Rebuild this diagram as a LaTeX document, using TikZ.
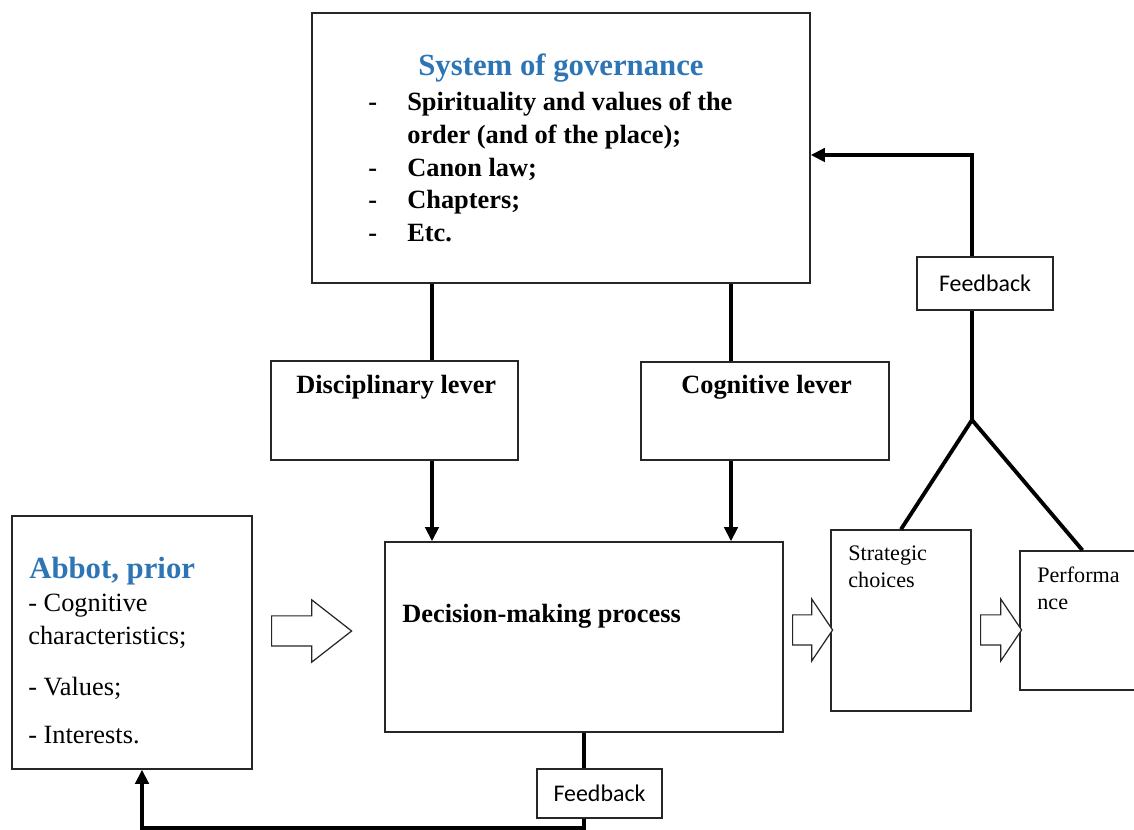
\documentclass[tikz,border=0pt]{standalone}
\usepackage{fontspec}
\setmainfont{Liberation Serif}
\newfontfamily\feedbackfont{Carlito}
\usetikzlibrary{arrows.meta,shapes,arrows}
\definecolor{titleblue}{RGB}{46,117,182}

\begin{document}
\begin{tikzpicture}[x=0.02cm,y=-0.02cm,
    box/.style 2 args={rectangle,draw=black!85,line width=0.8pt,fill=white,inner sep=0pt,
      minimum width=#1*0.02cm,minimum height=#2*0.02cm},
    bigarrow/.style 2 args={single arrow,draw=black!85,line width=0.7pt,fill=white,
      inner xsep=0pt,inner ysep=0.29cm,single arrow head extend=0.32cm,
      minimum height=#1*0.02cm,single arrow tip angle=#2,anchor=tail},
    boldtext/.style={inner sep=0pt,font=\fontsize{15}{18.7}\selectfont\bfseries},
    plaintext/.style={inner sep=0pt,font=\fontsize{15}{18.7}\selectfont},
    smalltext/.style={inner sep=0pt,font=\fontsize{12.6}{15.3}\selectfont},
    title/.style={inner sep=0pt,text=titleblue,font=\fontsize{17.5}{21}\selectfont\bfseries},
    fbtext/.style={font=\feedbackfont\fontsize{13.6}{16}\selectfont}]
  \useasboundingbox (0,0) rectangle (1134,830);

  % boxes
  \node[box={498}{270}] (gov)   at (561,148)   {};
  \node[box={247}{99}]  (disc)  at (394.5,410.5) {};
  \node[box={248}{98}]  (cogn)  at (765,411)   {};
  \node[box={398}{190}] (dec)   at (584,637)   {};
  \node[box={240}{253}] (abbot) at (132,642.5) {};
  \node[box={140}{181}] (strat) at (901,620.5) {};
  \node[box={125}{139}] (perf)  at (1082.5,620.5) {};

  % texts
  \node[title,anchor=base] (govtitle) at (561,76) {System of governance};
  \node[boldtext,anchor=north west] (govlist) at (368,87)
    {\begin{tabular}{@{}p{0.78cm}@{}l@{}}
      -&Spirituality and values of the\\
       &order (and of the place);\\
      -&Canon law;\\
      -&Chapters;\\
      -&Etc.
     \end{tabular}};
  \node[boldtext,anchor=base west] (disctxt) at (296,394) {Disciplinary lever};
  \node[boldtext,anchor=base west] (cogntxt) at (681,394) {Cognitive lever};
  \node[boldtext,anchor=base west] (dectxt)  at (402,623) {Decision-making process};
  \node[title,anchor=base west] (abbottitle) at (29,579) {Abbot, prior};
  \node[plaintext,anchor=north west] (abbotlist) at (28,588)
    {\begin{tabular}{@{}l@{}}
      - Cognitive\\
      characteristics;\\[10.5pt]
      - Values;\\[8.5pt]
      - Interests.
     \end{tabular}};
  \node[smalltext,anchor=north west] (strattxt) at (848,541)
    {\begin{tabular}{@{}l@{}}Strategic\\choices\end{tabular}};
  \node[smalltext,anchor=north west] (perftxt) at (1037,563)
    {\begin{tabular}{@{}l@{}}Performa\\nce\end{tabular}};

  % feedback boxes
  \node[box={136}{53},fbtext] (fbtop) at (985,283.5) {Feedback};
  \node[box={125}{49},fbtext] (fbbot) at (599.5,793.5) {Feedback};

  % block arrows
  \node[bigarrow={80}{76}]  (flow1) at (271,631) {};
  \node[bigarrow={40}{112}] (flow2) at (792,630) {};
  \node[bigarrow={41}{112}] (flow3) at (980,630) {};

  % connectors
  \coordinate (leftline)  at (432,0);
  \coordinate (rightline) at (731,0);
  \coordinate (fork)      at (972,420);
  \coordinate (fbturn)    at (0,155);
  \coordinate (fbbase)    at (142,828);
  \begin{scope}[>={Triangle[length=8pt,width=7.5pt]},line width=2.2pt]
    \draw (gov.south -| leftline) -- (disc.north -| leftline);
    \draw (gov.south -| rightline) -- (cogn.north -| rightline);
    \draw[->] (disc.south -| leftline) -- (dec.north -| leftline);
    \draw[->] (cogn.south -| rightline) -- (dec.north -| rightline);
    \draw (strat.north) -- (fork) -- (perf.north);
    \draw (fork) -- (fbtop.south -| fork);
    \draw[->] (fbtop.north -| fork) |- (gov.east |- fbturn);
    \draw (dec.south) -- (fbbot.north -| dec.south);
    \draw[->] (fbbot.south -| dec.south) |- (fbbase) -- (abbot.south -| fbbase);
  \end{scope}
\end{tikzpicture}
\end{document}
